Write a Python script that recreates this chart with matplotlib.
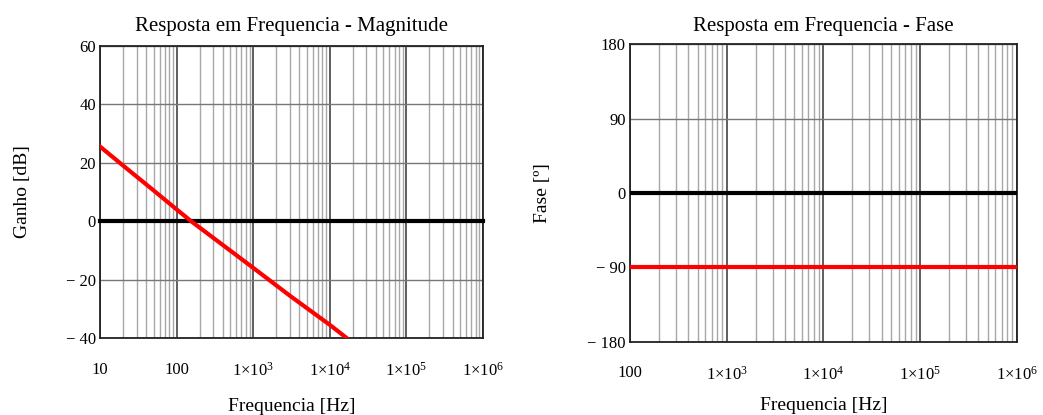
import numpy as np
import matplotlib
matplotlib.use('Agg')
import matplotlib.pyplot as plt
from matplotlib.ticker import FixedLocator, FixedFormatter

plt.rcParams['font.family'] = ['Liberation Serif', 'DejaVu Serif']
plt.rcParams['mathtext.fontset'] = 'custom'
plt.rcParams['mathtext.rm'] = 'Liberation Serif'
plt.rcParams['mathtext.it'] = 'Liberation Serif'

# magnitude curve
freq_mag = [10, 20, 50, 100, 154, 300, 1000, 3000, 10000, 16600]
gain_db = [25.5, 19.0, 10.5, 4.0, 0.0, -5.7, -16.0, -25.5, -35.5, -40.0]

# phase curve
freq_phase = [100, 1e3, 1e4, 1e5, 1e6]
phase_deg = [-90, -90, -90, -90, -90]

mag_xticks = [10, 100, 1e3, 1e4, 1e5, 1e6]
mag_xlabels = ['10', '100', r'$1{\times}10^{3}$', r'$1{\times}10^{4}$',
               r'$1{\times}10^{5}$', r'$1{\times}10^{6}$']
mag_yticks = [-40, -20, 0, 20, 40, 60]
mag_ylabels = ['\u2212 40', '\u2212 20', '0', '20', '40', '60']

ph_xticks = [100, 1e3, 1e4, 1e5, 1e6]
ph_xlabels = ['100', r'$1{\times}10^{3}$', r'$1{\times}10^{4}$',
              r'$1{\times}10^{5}$', r'$1{\times}10^{6}$']
ph_yticks = [-180, -90, 0, 90, 180]
ph_ylabels = ['\u2212 180', '\u2212 90', '0', '90', '180']

W, H = 1043, 415
fig = plt.figure(figsize=(W / 100, H / 100), dpi=100)


def style_axes(ax, xmin, xmax, xticks, xlabels, yticks, ylabels):
    ax.set_xscale('log')
    ax.set_xlim(xmin, xmax)
    ax.set_ylim(yticks[0], yticks[-1])
    # minor grid (2..9 per decade)
    minors = []
    d = xmin
    while d < xmax:
        minors += [d * k for k in range(2, 10)]
        d *= 10
    for m in minors:
        ax.axvline(m, color='#a8a8a8', lw=1.0, zorder=1)
    for t in xticks:
        ax.axvline(t, color='#333333', lw=1.1, zorder=1)
    for t in yticks:
        ax.axhline(t, color='#777777', lw=1.0, zorder=1)
    ax.xaxis.set_major_locator(FixedLocator(xticks))
    ax.xaxis.set_major_formatter(FixedFormatter(xlabels))
    ax.xaxis.set_minor_locator(FixedLocator([]))
    ax.set_yticks(yticks)
    ax.set_yticklabels(ylabels)
    ax.tick_params(axis='both', length=0, labelsize=12)
    ax.tick_params(axis='x', pad=17)
    ax.tick_params(axis='y', pad=3)
    for s in ax.spines.values():
        s.set_linewidth(1.3)
        s.set_color('#222222')


ax1 = fig.add_axes([100 / W, (H - 338) / H, 383 / W, 292.3 / H])
style_axes(ax1, 10, 1e6, mag_xticks, mag_xlabels, mag_yticks, mag_ylabels)
ax1.axhline(0, color='black', lw=3, zorder=3, clip_on=False)
ax1.plot(freq_mag, gain_db, color='red', lw=3, zorder=4, clip_on=True)
ax1.set_title('Resposta em Frequencia - Magnitude', fontsize=15, pad=10.5)
ax1.set_xlabel('Frequencia [Hz]', fontsize=14, labelpad=13)
ax1.set_ylabel('Ganho [dB]', fontsize=14, labelpad=25)

ax2 = fig.add_axes([630 / W, (H - 341.7) / H, 386.7 / W, 297.4 / H])
style_axes(ax2, 100, 1e6, ph_xticks, ph_xlabels, ph_yticks, ph_ylabels)
ax2.axhline(0, color='black', lw=3, zorder=3)
ax2.plot(freq_phase, phase_deg, color='red', lw=3, zorder=4)
ax2.set_title('Resposta em Frequencia - Fase', fontsize=15, pad=9.5)
ax2.set_xlabel('Frequencia [Hz]', fontsize=14, labelpad=10)
ax2.set_ylabel('Fase [º]', fontsize=14, labelpad=26)

fig.savefig('out.png', dpi=100, facecolor='white')
